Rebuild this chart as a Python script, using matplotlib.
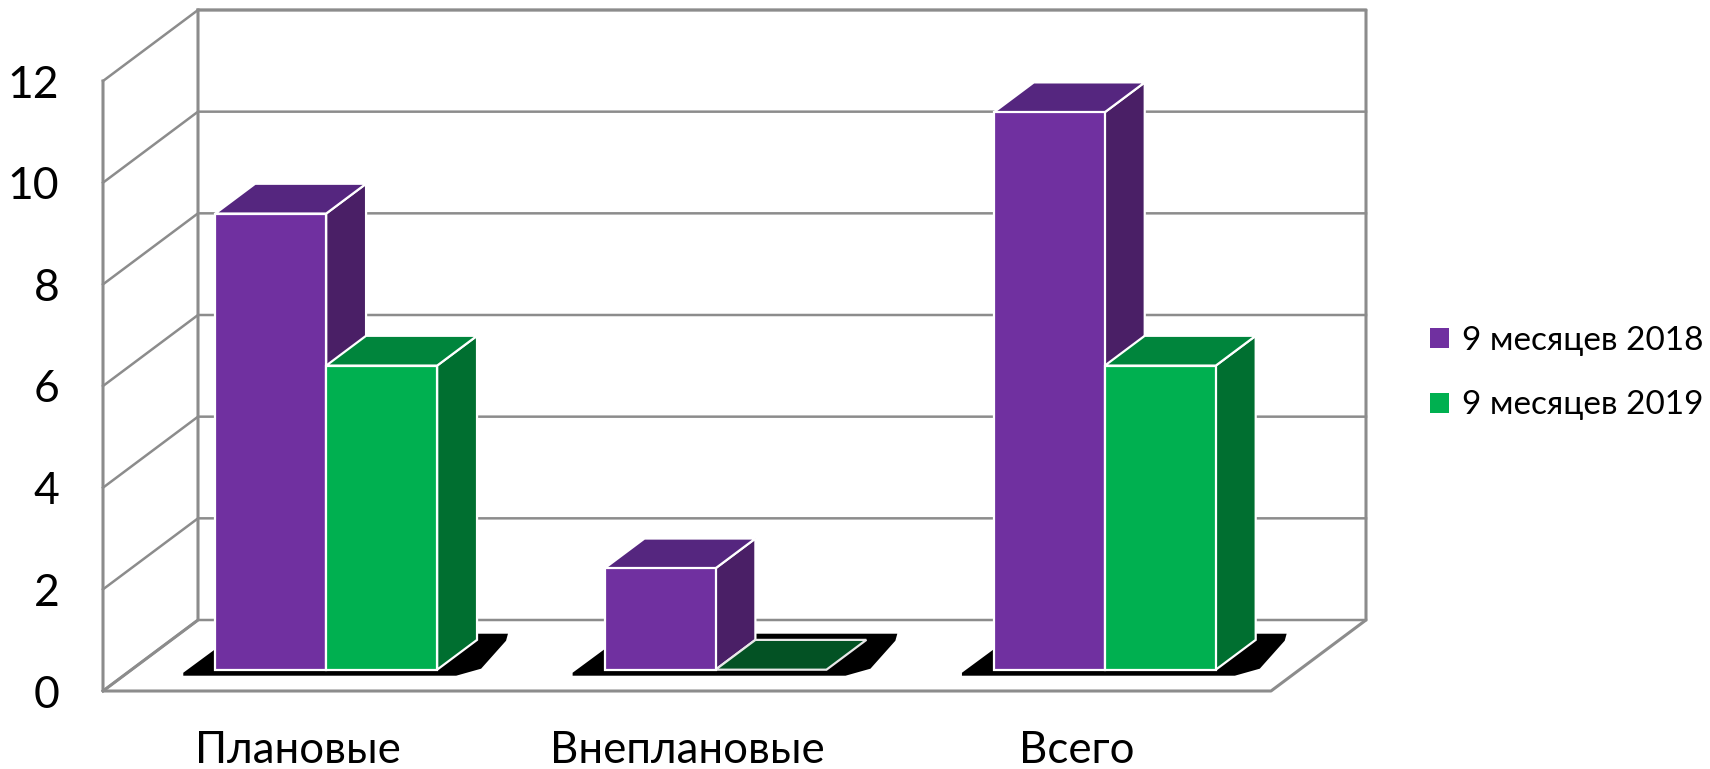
import matplotlib
matplotlib.use("Agg")
import matplotlib.pyplot as plt
from matplotlib.patches import Patch, Polygon
import numpy as np

categories = ["Плановые", "Внеплановые", "Всего"]
series_names = ["9 месяцев 2018", "9 месяцев 2019"]
values_2018 = [9, 2, 11]
values_2019 = [6, 0, 6]
y_ticks = [0, 2, 4, 6, 8, 10, 12]

plt.rcParams["font.family"] = ["Lato", "Open Sans", "DejaVu Sans"]

W, H = 1710, 769
fig = plt.figure(figsize=(W / 100, H / 100), dpi=100)
# the axes is the front plane of the 3d box
ax = fig.add_axes([103 / W, 1 - 691 / H, 1168 / W, 610 / H])
ax.set_xlim(-0.5, 2.5)
ax.set_ylim(0, 12)
for s in ax.spines.values():
    s.set_visible(False)
ax.patch.set_visible(False)

# depth shift of the box, in data units
depth_x = 95 / (1168 / 3)
depth_y = 71 / (610 / 12)


def pt(x, y, d):
    return (x + d * depth_x, y + d * depth_y)


def face(points, color, edge="white", lw=1.6, z=3):
    ax.add_patch(Polygon(points, closed=True, facecolor=color, edgecolor=edge,
                         linewidth=lw, zorder=z, clip_on=False, joinstyle="miter"))


GRAY = "#8c8c8c"
x0, x1 = -0.5, 2.5
for v in y_ticks:
    a = pt(x0, v, 0)
    b = pt(x0, v, 1)
    c = pt(x1, v, 1)
    ax.plot([a[0], b[0], c[0]], [a[1], b[1], c[1]], color=GRAY, lw=1.8, zorder=1, clip_on=False)
# walls and floor
wall = [pt(x0, 12, 0), pt(x0, 0, 0), pt(x1, 0, 0), pt(x1, 0, 1), pt(x1, 12, 1), pt(x0, 12, 1)]
ax.plot(*zip(*wall), color=GRAY, lw=2.2, zorder=1, clip_on=False)
back = [pt(x0, 0, 0), pt(x0, 0, 1), pt(x0, 12, 1)]
ax.plot(*zip(*back), color=GRAY, lw=2.2, zorder=1, clip_on=False)

bar_w = 0.285
bar_scale = 0.997
d_front = 0.30
d_back = 0.72

purple = ("#7030A0", "#55267F", "#4A1F66")
green = ("#00B050", "#00853C", "#006F30")
green_flat = "#035224"

# black floor shadow outline, relative to the bar group's front bottom middle
shadow_x = [-0.367, 0.334, 0.398, 0.462, 0.467, -0.231, -0.367]
shadow_y = [-0.118, -0.118, 0.02, 0.57, 0.708, 0.708, -0.06]

for i in range(len(categories)):
    sh = [pt(i + sx, sy, d_front) for sx, sy in zip(shadow_x, shadow_y)]
    ax.add_patch(Polygon(sh, closed=True, facecolor="black", edgecolor="none", zorder=2, clip_on=False))

    for j, (vals, cols) in enumerate(zip([values_2018, values_2019], [purple, green])):
        v = vals[i] * bar_scale
        l = i - bar_w + j * bar_w
        r = l + bar_w
        if v == 0:
            face([pt(l, 0, d_front), pt(r, 0, d_front), pt(r, 0, d_back), pt(l, 0, d_back)], green_flat, edge="#e8e8e8")
            continue
        face([pt(r, 0, d_front), pt(r, v, d_front), pt(r, v, d_back), pt(r, 0, d_back)], cols[2])
        face([pt(l, v, d_front), pt(r, v, d_front), pt(r, v, d_back), pt(l, v, d_back)], cols[1])
        face([pt(l, 0, d_front), pt(r, 0, d_front), pt(r, v, d_front), pt(l, v, d_front)], cols[0], z=3.1)

ax.set_yticks(y_ticks)
ax.set_xticks(range(len(categories)))
ax.set_xticklabels(categories)
ax.tick_params(axis="y", length=0, pad=31.5, labelsize=32)
ax.tick_params(axis="x", length=0, pad=28, labelsize=31.5)

handles = [Patch(facecolor=purple[0], edgecolor="none"), Patch(facecolor=green[0], edgecolor="none")]
fig.legend(handles, series_names, loc="center left", bbox_to_anchor=(1400 / W, 1 - 373 / H),
           frameon=False, fontsize=24, handlelength=0.56, handleheight=0.56,
           handletextpad=0.4, labelspacing=1.05)

fig.savefig("out.png", dpi=100)
